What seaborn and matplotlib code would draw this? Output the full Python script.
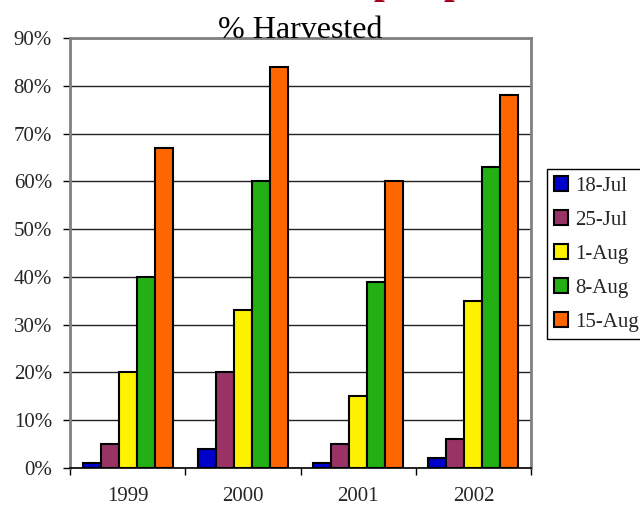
import matplotlib
matplotlib.use("Agg")
import matplotlib.pyplot as plt
import seaborn as sns
import pandas as pd

# Harvest progress by calendar date, per season (percent of crop harvested)
years = ["1999", "2000", "2001", "2002"]
dates = ["18-Jul", "25-Jul", "1-Aug", "8-Aug", "15-Aug"]
jul18 = [1, 4, 1, 2]
jul25 = [5, 20, 5, 6]
aug01 = [20, 33, 15, 35]
aug08 = [40, 60, 39, 63]
aug15 = [67, 84, 60, 78]
y_ticks = [0, 10, 20, 30, 40, 50, 60, 70, 80, 90]

colors = ["#0000CC", "#993366", "#FFF200", "#22B014", "#FF6600"]

rows = []
for date, vals in zip(dates, [jul18, jul25, aug01, aug08, aug15]):
    for yr, v in zip(years, vals):
        rows.append({"Year": yr, "Date": date, "Harvested": v})
df = pd.DataFrame(rows)

sns.set_theme(style="white")
plt.rcParams["font.family"] = ["Liberation Serif", "DejaVu Serif"]

fig = plt.figure(figsize=(6.4, 5.11), dpi=100)
ax = fig.add_axes([70 / 640, 1 - 468 / 511, 461 / 640, 430 / 511])

sns.barplot(data=df, x="Year", y="Harvested", hue="Date", order=years,
            hue_order=dates, palette=colors, width=0.78, ax=ax,
            edgecolor="black", linewidth=1.5, saturation=1, legend=True)

ax.set_ylim(0, 90)
ax.set_xlim(-0.5, len(years) - 0.5)
ax.set_yticks(y_ticks)
ax.set_yticklabels([f"{t}%" for t in y_ticks], fontsize=15)
ax.yaxis.grid(True, color="#222222", linewidth=1)
ax.set_axisbelow(True)
ax.set_xlabel("")
ax.set_ylabel("")

# category labels centred, tick marks at category boundaries
ax.set_xticks(range(len(years)))
ax.set_xticklabels(years, fontsize=15)
ax.set_xticks([i - 0.5 for i in range(len(years) + 1)], minor=True)
ax.tick_params(axis="x", which="major", length=0, pad=14)
ax.tick_params(axis="x", which="minor", length=5, width=1, color="black",
               direction="out", bottom=True)
ax.tick_params(axis="y", length=5, width=1, color="black", direction="out",
               left=True, pad=8)

for side in ["left", "top", "right"]:
    ax.spines[side].set_color("#808080")
    ax.spines[side].set_linewidth(2)
ax.spines["bottom"].set_color("black")
ax.spines["bottom"].set_linewidth(1.2)

ax.set_title("% Harvested", fontsize=23, pad=0, color="black")

handles, labels = ax.get_legend_handles_labels()
ax.legend_.remove()
leg = fig.legend(handles, labels, loc="upper left",
                 bbox_to_anchor=(547 / 640, 1 - 169 / 511),
                 bbox_transform=fig.transFigure, fontsize=15,
                 frameon=True, fancybox=False, framealpha=1,
                 edgecolor="black", borderpad=0.35, labelspacing=0.7,
                 handlelength=0.68, handleheight=0.68, handletextpad=0.33,
                 borderaxespad=0)
leg.get_frame().set_linewidth(1)

# slide heading above the chart, mostly cut off by the top edge
fig.text(373 / 640, 1 + 6.5 / 511, "p", color="#A0001E", fontsize=28,
         fontweight="bold", ha="left", va="baseline")
fig.text(443 / 640, 1 + 6.5 / 511, "p", color="#A0001E", fontsize=28,
         fontweight="bold", ha="left", va="baseline")

fig.savefig("out.png", dpi=100)
